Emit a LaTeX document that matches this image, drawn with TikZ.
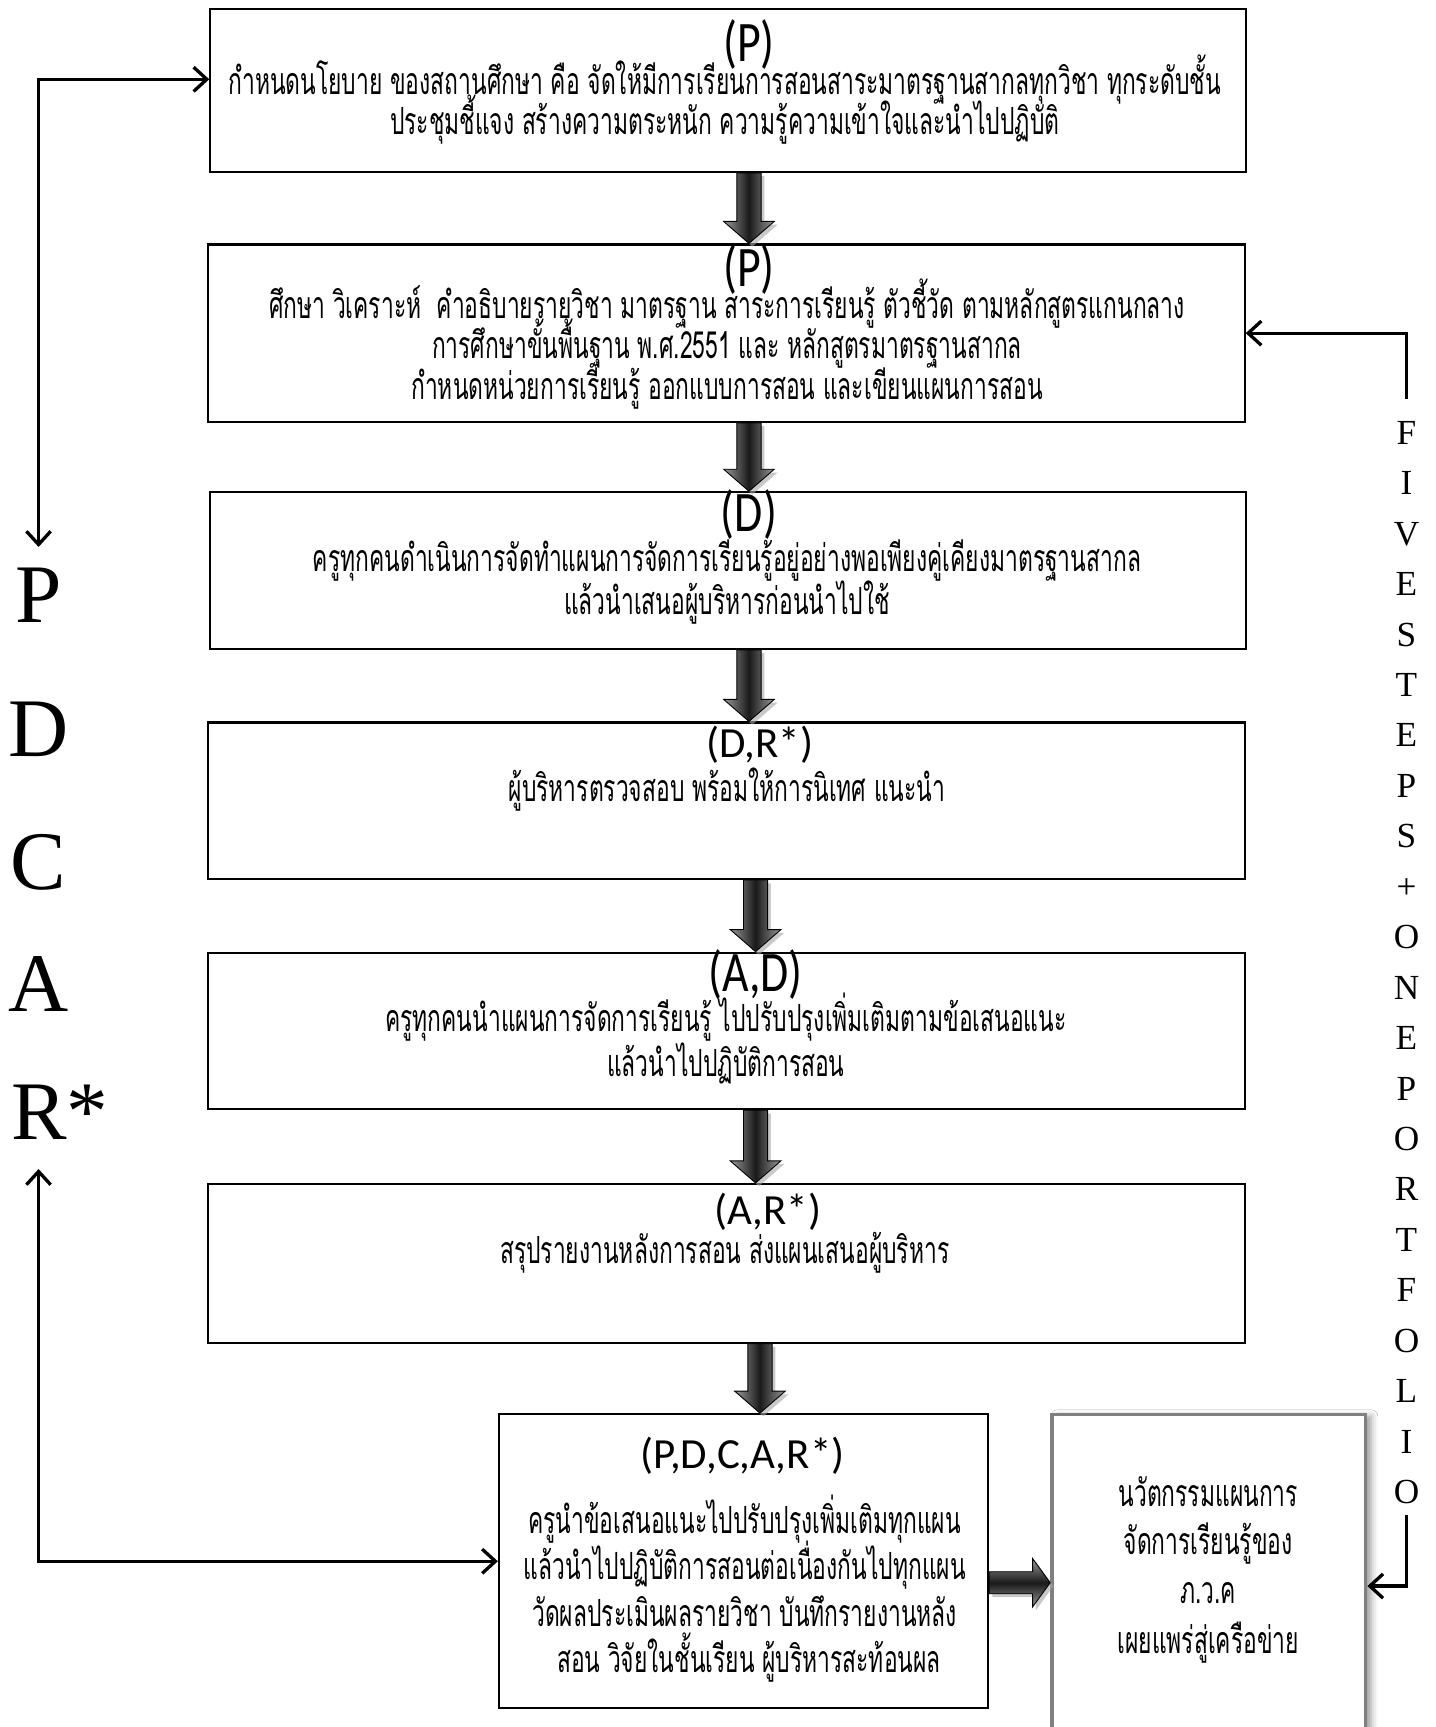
\documentclass[tikz,border=0pt]{standalone}
\usepackage{fontspec}
\setmainfont{Liberation Serif}
\newfontfamily\thaif[Script=Thai,FakeStretch=0.61]{Loma}
\newfontfamily\hdn[FakeStretch=0.8]{Carlito}
\newfontfamily\hdw{Carlito}
\usetikzlibrary{arrows.meta,calc,shadows,shadows.blur}
\tikzset{
  box/.style={draw=black,line width=1pt,fill=white,inner sep=0pt},
  boxg/.style={draw=black!50,line width=1.5pt,fill=white,inner sep=0pt,
     blur shadow={shadow xshift=2.5pt,shadow yshift=-1pt,shadow blur radius=3pt}},
  body/.style={font=\thaif\fontsize{17pt}{20pt}\selectfont,inner sep=0pt,text height=9.5pt,text depth=0pt},
  headn/.style={font=\hdn\fontsize{26pt}{28pt}\selectfont,inner sep=0pt,text height=14.8pt,text depth=0pt},
  headw/.style={font=\hdw\fontsize{19.5pt}{22pt}\selectfont,inner sep=0pt,text height=11.1pt,text depth=0pt},
  bigl/.style={font=\fontsize{37.8pt}{40pt}\selectfont,inner xsep=0pt,inner ysep=9pt,text height=25pt,text depth=0pt},
  fsst/.style={align=center,font=\fontsize{16pt}{22.9pt}\selectfont,inner sep=0pt},
  conn/.style={line width=1.5pt},
  blk/.style={draw=black,line width=0.4pt,left color=black!40,right color=black!40,middle color=black!90,
     drop shadow={shadow xshift=1.5pt,shadow yshift=-1.5pt,fill=black!35,opacity=0.6}},
  blkh/.style={draw=black,line width=0.4pt,top color=black!40,bottom color=black!40,middle color=black!90,
     drop shadow={shadow xshift=1.5pt,shadow yshift=-1.5pt,fill=black!35,opacity=0.6}},
  >={Straight Barb[length=6pt,width=11pt]}
}
\newcommand\blkdown[3]{%
  \path[blk] let \p1=(#1.south), \p2=(#2.north), \n1={#3*0.5pt} in
   ({\n1*1pt-5.5pt},\y1) -- ({\n1*1pt+5.5pt},\y1) -- ({\n1*1pt+5.5pt},{\y2+10pt})
   -- ({\n1*1pt+11.5pt},{\y2+10pt}) -- ({\n1*1pt},\y2) -- ({\n1*1pt-11.5pt},{\y2+10pt})
   -- ({\n1*1pt-5.5pt},{\y2+10pt}) -- cycle;}
\newcommand\blkright[3]{%
  \path[blkh] let \p1=(#1.east), \p2=(#2.west), \n1={#3*-0.5pt} in
   (\x1,{\n1*1pt+5pt}) -- ({\x2-8pt},{\n1*1pt+5pt}) -- ({\x2-8pt},{\n1*1pt+11pt})
   -- (\x2,{\n1*1pt}) -- ({\x2-8pt},{\n1*1pt-11pt}) -- ({\x2-8pt},{\n1*1pt-5pt})
   -- (\x1,{\n1*1pt-5pt}) -- cycle;}
\begin{document}
\begin{tikzpicture}[x=0.5pt,y=-0.5pt]
\clip (0,0) rectangle (1303,1568);
\fill[white] (0,0) rectangle (1303,1568);
% boxes
\node[box,minimum width=470pt,minimum height=74pt] (b1) at (661,82) {};
\node[box,minimum width=470.5pt,minimum height=80.5pt] (b2) at (659.5,302.5) {};
\node[box,minimum width=470pt,minimum height=71pt] (b3) at (661,518) {};
\node[box,minimum width=470.5pt,minimum height=71pt] (b4) at (659.5,727) {};
\node[box,minimum width=470.5pt,minimum height=71pt] (b5) at (659.5,936) {};
\node[box,minimum width=470.5pt,minimum height=72pt] (b6) at (659.5,1147) {};
\node[box,minimum width=222pt,minimum height=133.5pt] (b7) at (675,1417.5) {};
\node[boxg,minimum width=142.5pt,minimum height=156pt] (b8) at (1097.5,1440) {};
% texts
\node[headn] (h1) at (680,41) {(P)};
\node[body] (t1a) at (658,76) {กำหนดนโยบาย ของสถานศึกษา คือ จัดให้มีการเรียนการสอนสาระมาตรฐานสากลทุกวิชา ทุกระดับชั้น};
\node[body] (t1b) at (658,113) {ประชุมชี้แจง สร้างความตระหนัก ความรู้ความเข้าใจและนำไปปฏิบัติ};
\node[headn] (h2) at (680,245) {(P)};
\node[body] (t2a) at (660,280) {ศึกษา วิเคราะห์\ \ คำอธิบายรายวิชา มาตรฐาน สาระการเรียนรู้ ตัวชี้วัด ตามหลักสูตรแกนกลาง};
\node[body] (t2b) at (660,316) {การศึกษาขั้นพื้นฐาน พ.ศ.2551 และ หลักสูตรมาตรฐานสากล};
\node[body] (t2c) at (660,353) {กำหนดหน่วยการเรียนรู้ ออกแบบการสอน และเขียนแผนการสอน};
\node[headn] (h3) at (680,468) {(D)};
\node[body] (t3a) at (660,509) {ครูทุกคนดำเนินการจัดทำแผนการจัดการเรียนรู้อยู่อย่างพอเพียงคู่เคียงมาตรฐานสากล};
\node[body] (t3b) at (660,548) {แล้วนำเสนอผู้บริหารก่อนนำไปใช้};
\node[headw] (h4) at (690,677) {(D,R*)};
\node[body] (t4a) at (660,718) {ผู้บริหารตรวจสอบ พร้อมให้การนิเทศ แนะนำ};
\node[headn] (h5) at (686,885) {(A,D)};
\node[body] (t5a) at (659,927) {ครูทุกคนนำแผนการจัดการเรียนรู้ ไปปรับปรุงเพิ่มเติมตามข้อเสนอแนะ};
\node[body] (t5b) at (659,968) {แล้วนำไปปฏิบัติการสอน};
\node[headw] (h6) at (697,1101) {(A,R*)};
\node[body] (t6a) at (658,1138) {สรุปรายงานหลังการสอน ส่งแผนเสนอผู้บริหาร};
\node[headw] (h7) at (674,1322) {(P,D,C,A,R*)};
\node[body] (t7a) at (676,1383) {ครูนำข้อเสนอแนะไปปรับปรุงเพิ่มเติมทุกแผน};
\node[body] (t7b) at (676,1425) {แล้วนำไปปฏิบัติการสอนต่อเนื่องกันไปทุกแผน};
\node[body] (t7c) at (676,1467) {วัดผลประเมินผลรายวิชา บันทึกรายงานหลัง};
\node[body] (t7d) at (680,1509) {สอน วิจัยในชั้นเรียน ผู้บริหารสะท้อนผล};
\node[body] (t8a) at (1097,1358) {นวัตกรรมแผนการ};
\node[body] (t8b) at (1097,1402) {จัดการเรียนรู้ของ};
\node[body] (t8c) at (1097,1446) {ภ.ว.ค};
\node[body] (t8d) at (1097,1492) {เผยแพร่สู่เครือข่าย};
% block arrows
\blkdown{b1}{b2}{680}
\blkdown{b2}{b3}{680}
\blkdown{b3}{b4}{680}
\blkdown{b4}{b5}{686}
\blkdown{b5}{b6}{686}
\blkdown{b6}{b7}{690}
\blkright{b7}{b8}{1437}
% left letters
\node[bigl] (lP) at (35,540) {P};
\node[bigl] (lD) at (35,662) {D};
\node[bigl] (lC) at (35,783) {C};
\node[bigl] (lA) at (35,893) {A};
\node[bigl,anchor=west,inner ysep=13pt] (lR) at (10,1010) {R*};
% right letters
\node[fsst,anchor=north] (fs) at (1277,382) {F\\I\\V\\E\\S\\T\\E\\P\\S\\+\\O\\N\\E\\P\\O\\R\\T\\F\\O\\L\\I\\O};
% connectors
\draw[conn,<->] (lP.north) |- ($(b1.west)+(0,-10)$);
\draw[conn,<->] (lR.south -| lP.south) |- (b7.west);
\draw[conn,->] ($(fs.north)+(0,-20)$) |- (b2.east);
\draw[conn,->] ($(fs.south)+(0,10)$) |- (b8.east);
\end{tikzpicture}
\end{document}
